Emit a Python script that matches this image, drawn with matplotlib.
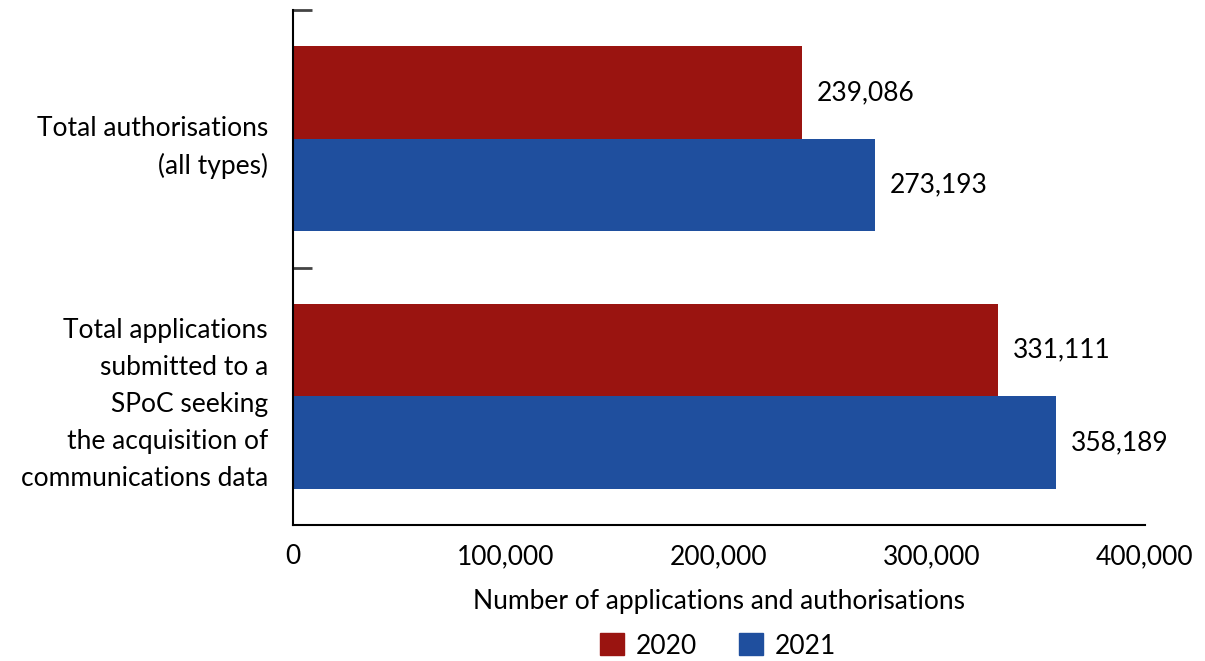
import matplotlib
matplotlib.use("Agg")
import matplotlib.pyplot as plt
import matplotlib.ticker as ticker
from matplotlib.patches import Patch
import numpy as np

plt.rcParams["font.family"] = ["Lato", "DejaVu Sans"]

CATEGORIES = ["Total authorisations\n(all types)",
              "Total applications\nsubmitted to a\nSPoC seeking\nthe acquisition of\ncommunications data"]
YEARS = ["2020", "2021"]
VALUES_2020 = [239086, 331111]
VALUES_2021 = [273193, 358189]
XTICKS = [0, 100000, 200000, 300000, 400000]

COLORS = {"2020": "#9a1410", "2021": "#1f4f9e"}
FS = 19

fig = plt.figure(figsize=(12.05, 6.61), dpi=100, facecolor="white")
ax = fig.add_axes([293 / 1205, 136 / 661, 852 / 1205, 515 / 661])

y = np.arange(len(CATEGORIES))
h = 0.36
ax.barh(y - h / 2, VALUES_2020, height=h, color=COLORS["2020"])
ax.barh(y + h / 2, VALUES_2021, height=h, color=COLORS["2021"])

# value labels just past the end of each bar
for vals, off in [(VALUES_2020, -h / 2), (VALUES_2021, h / 2)]:
    for yi, v in zip(y, vals):
        ax.text(v + 7000, yi + off, f"{v:,}", va="center", ha="left", fontsize=FS)

ax.set_ylim(1.5, -0.5)
ax.set_xlim(0, 400000)
ax.set_yticks(y)
ax.set_yticklabels(CATEGORIES, fontsize=FS, ha="right", linespacing=1.6)
ax.tick_params(axis="y", length=0, pad=18)
ax.yaxis.set_minor_locator(ticker.FixedLocator([-0.5, 0.5]))
ax.tick_params(axis="y", which="minor", direction="in", length=14, width=2, color="#444444")

ax.set_xticks(XTICKS)
ax.set_xticklabels([f"{t:,}" for t in XTICKS], fontsize=FS)
ax.tick_params(axis="x", length=0, pad=14)
ax.set_xlabel("Number of applications and authorisations", fontsize=FS, labelpad=14)

ax.spines["top"].set_visible(False)
ax.spines["right"].set_visible(False)
ax.spines["left"].set_linewidth(1.5)
ax.spines["bottom"].set_linewidth(1.5)

handles = [Patch(color=COLORS[yr], label=yr) for yr in YEARS]
fig.legend(handles=handles, loc="center", bbox_to_anchor=(718 / 1205, 1 - 646 / 661),
           ncol=2, frameon=False, fontsize=FS, handlelength=0.9, handleheight=0.9,
           columnspacing=1.6, handletextpad=0.45)

fig.savefig("out.png", dpi=100, facecolor="white")
